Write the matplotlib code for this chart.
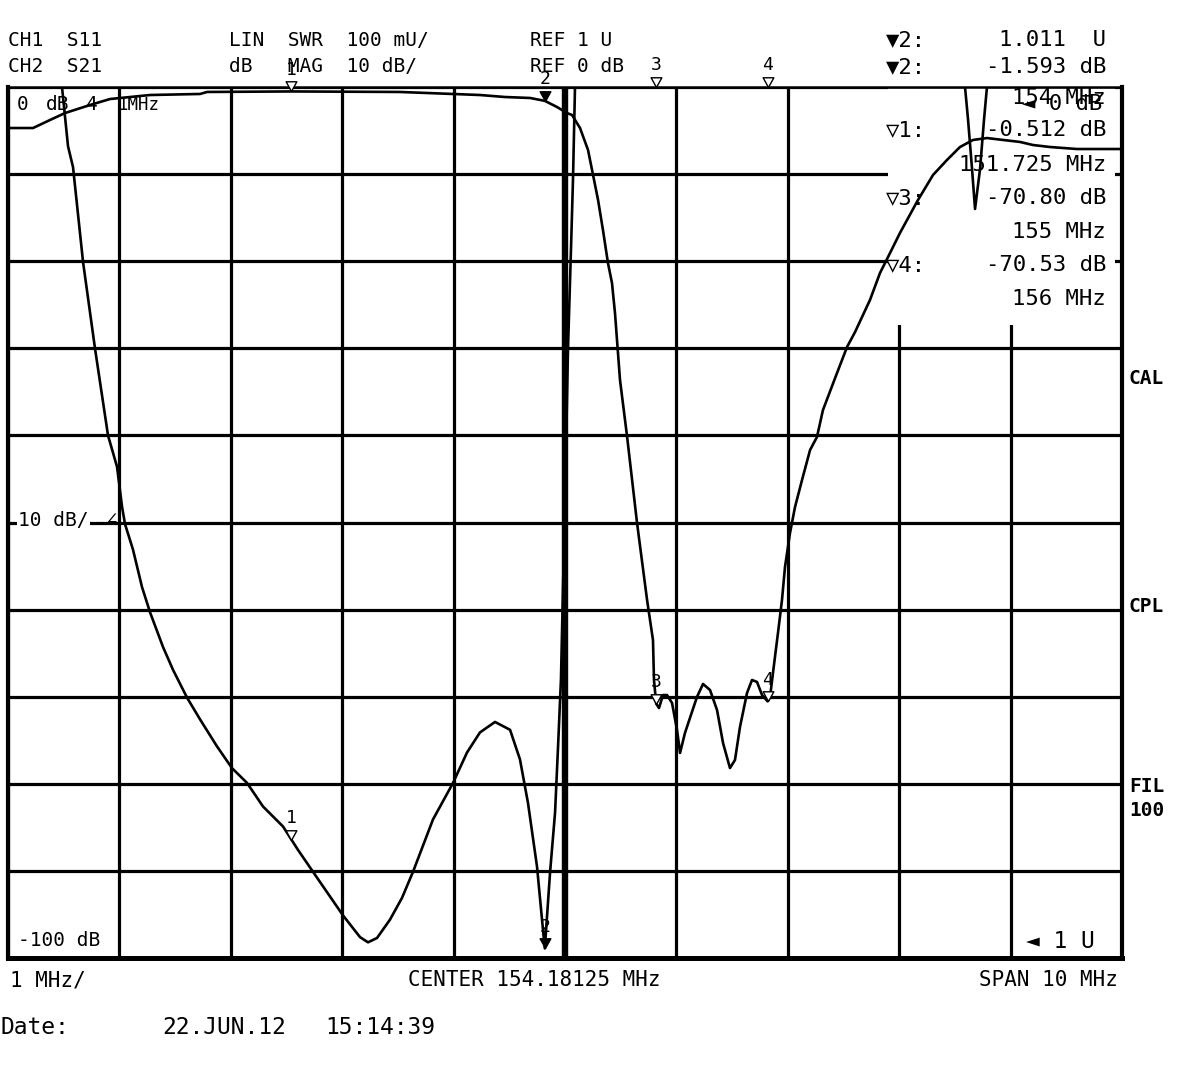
import numpy as np
import matplotlib
matplotlib.use("Agg")
import matplotlib.pyplot as plt
from matplotlib.path import Path
from matplotlib.patches import Rectangle

plt.rcParams['font.family'] = ['DejaVu Sans Mono', 'DejaVu Sans']

W, H = 1181, 1090

center = 154.18125
span = 10.0
f_start = center - span / 2
f_stop = center + span / 2

# CH1 S11, SWR (values at 2.0 are the trace pinned to the top of the screen)
s11_f = [149.181, 149.666, 149.720, 149.765, 149.855, 149.962, 150.079, 150.160,
         150.205, 150.232, 150.303, 150.384, 150.456, 150.573, 150.662, 150.788,
         150.905, 151.057, 151.192, 151.327, 151.470, 151.650, 151.785, 151.919,
         152.188, 152.341, 152.413, 152.494, 152.610, 152.718, 152.817, 152.996,
         153.176, 153.302, 153.418, 153.553, 153.688, 153.777, 153.849, 153.930,
         153.975, 154.000, 154.047, 154.092, 154.119, 154.145, 154.181, 154.208,
         154.235, 154.253, 154.271, 157.772, 157.799, 157.835, 157.862, 157.907,
         157.943, 157.969, 159.181]
s11_swr = [2.0, 2.0, 1.932, 1.908, 1.799, 1.700, 1.600, 1.564,
           1.518, 1.498, 1.469, 1.426, 1.397, 1.357, 1.331, 1.299,
           1.274, 1.243, 1.218, 1.201, 1.174, 1.151, 1.124, 1.099,
           1.049, 1.024, 1.018, 1.023, 1.044, 1.069, 1.099, 1.159,
           1.201, 1.236, 1.259, 1.271, 1.262, 1.228, 1.178, 1.105,
           1.044, 1.011, 1.098, 1.167, 1.243, 1.320, 1.526, 1.699,
           1.814, 1.894, 2.0, 2.0, 1.963, 1.906, 1.860, 1.906,
           1.963, 2.0, 2.0]

# CH2 S21, dB
s21_f = [149.181, 149.406, 149.558, 149.693, 149.917, 150.097, 150.456, 150.905,
         150.968, 151.725, 152.700, 153.418, 153.643, 153.867, 154.000, 154.110,
         154.199, 154.244, 154.316, 154.388, 154.433, 154.478, 154.522, 154.567,
         154.603, 154.630, 154.675, 154.738, 154.828, 154.918, 154.971, 154.980,
         155.000, 155.025, 155.061, 155.097, 155.142, 155.187, 155.214, 155.258,
         155.303, 155.366, 155.420, 155.483, 155.546, 155.600, 155.662, 155.707,
         155.752, 155.815, 155.860, 155.905, 155.950, 156.000, 156.022, 156.048,
         156.093, 156.129, 156.156, 156.201, 156.246, 156.309, 156.381, 156.443,
         156.497, 156.623, 156.713, 156.785, 156.919, 157.009, 157.099, 157.188,
         157.350, 157.485, 157.610, 157.727, 157.844, 157.969, 158.113, 158.266,
         158.382, 158.535, 158.777, 159.181]
s21_db = [-4.71, -4.71, -3.79, -2.99, -2.07, -1.38, -0.92, -0.80,
          -0.57, -0.51, -0.57, -0.92, -1.15, -1.26, -1.59, -2.30,
          -2.99, -3.21, -4.71, -7.23, -10.10, -12.97, -16.42, -20.21,
          -22.50, -25.95, -33.64, -40.07, -50.06, -58.90, -63.49, -68.08,
          -70.80, -71.30, -69.81, -69.81, -70.72, -73.82, -76.46, -74.17,
          -72.44, -70.03, -68.54, -69.23, -71.53, -75.32, -78.19, -77.27,
          -73.48, -69.58, -68.08, -68.31, -69.81, -70.53, -70.03, -67.28,
          -62.69, -58.90, -55.11, -51.21, -48.22, -45.12, -41.68, -40.18,
          -37.08, -32.84, -29.85, -28.13, -24.45, -21.35, -19.06, -16.76,
          -12.97, -10.10, -8.38, -6.89, -6.08, -5.86, -6.08, -6.31,
          -6.66, -6.89, -7.12, -7.12]

# markers
mk_names = ['1', '2', '3', '4']
mk_f = [151.725, 154.0, 155.0, 156.0]
mk_s21 = [-0.512, -1.593, -70.80, -70.53]
mk_s11 = [1.136, 1.011, 2.0, 2.0]
active = '2'

fig = plt.figure(figsize=(W / 100, H / 100), dpi=100)
ax = fig.add_axes([8 / W, 1 - 958 / H, (1122 - 8) / W, (958 - 87) / H])
ax.set_xlim(f_start, f_stop)
ax.set_ylim(-100, 0)
ax.set_xticks(np.linspace(f_start, f_stop, 11))
ax.set_yticks(np.arange(-100, 1, 10))
ax.tick_params(length=0, labelleft=False, labelbottom=False)
ax.set_axisbelow(True)
ax.grid(True, color='black', lw=2.3)
for side, lw in [('left', 3.0), ('bottom', 3.6), ('right', 3.0), ('top', 1.8)]:
    ax.spines[side].set_linewidth(lw)

# centre graticule line is drawn heavier
ax.axvline(center, color='black', lw=4.6, zorder=1.2)

# annotation area top right blanks the graticule
ax.add_patch(Rectangle(((888 - 8) / 1114, (958 - 325) / 871), (1115 - 888) / 1114,
                       (325 - 87) / 871, transform=ax.transAxes,
                       facecolor='white', edgecolor='none', zorder=1))

ax.plot(s21_f, s21_db, color='black', lw=1.9, zorder=2)

ax2 = ax.twinx()
ax2.set_ylim(1, 2)
ax2.set_yticks([])
ax2.tick_params(length=0, labelright=False)
for s in ax2.spines.values():
    s.set_visible(False)
ax2.plot(s11_f, s11_swr, color='black', lw=1.9, zorder=2)

tri = Path([(-0.55, 1.0), (0.55, 1.0), (0.0, 0.0), (-0.55, 1.0)],
           [Path.MOVETO, Path.LINETO, Path.LINETO, Path.CLOSEPOLY])
for a, vals in [(ax, mk_s21), (ax2, mk_s11)]:
    for name, f, v in zip(mk_names, mk_f, vals):
        a.plot(f, v, marker=tri, ms=14, mec='black', mew=1.0,
               mfc='black' if name == active else 'white',
               clip_on=False, zorder=5)
        a.annotate(name, (f, v), xytext=(0, 15.5), textcoords='offset points',
                   ha='center', va='center', fontsize=13, annotation_clip=False)


def put(x, y, s, size=14, ha='left', **kw):
    fig.text(x / W, 1 - y / H, s, ha=ha, va='center', fontsize=size, **kw)


put(8, 40, 'CH1  S11')
put(8, 67, 'CH2  S21')
put(229, 40, 'LIN  SWR  100 mU/')
put(229, 67, 'dB   MAG  10 dB/')
put(530, 40, 'REF 1 U')
put(530, 67, 'REF 0 dB')

put(886, 40, '▼2:', 16)
put(1106, 40, '1.011  U', 16, 'right')
put(886, 67, '▼2:', 16)
put(1106, 67, '-1.593 dB', 16, 'right')
put(1106, 98, '154 MHz', 16, 'right')
put(1102, 104, '◄ 0 dB', 16, 'right')
put(886, 130, '▽1:', 16)
put(1106, 130, '-0.512 dB', 16, 'right')
put(1106, 165, '151.725 MHz', 16, 'right')
put(886, 198, '▽3:', 16)
put(1106, 198, '-70.80 dB', 16, 'right')
put(1106, 232, '155 MHz', 16, 'right')
put(886, 265, '▽4:', 16)
put(1106, 265, '-70.53 dB', 16, 'right')
put(1106, 299, '156 MHz', 16, 'right')

put(17, 105, '0')
put(46, 105, 'dB')
put(86, 105, '4')
put(118, 105, '1MHz', 12.5)
put(18, 520, '10 dB/', bbox=dict(facecolor='white', edgecolor='none', pad=1))
put(106, 520, '∠')
put(18, 940, '-100 dB', bbox=dict(facecolor='white', edgecolor='none', pad=1))
put(1026, 942, '◄ 1 U', 16.5)

put(1129, 378, 'CAL', 14, weight='bold')
put(1129, 606, 'CPL', 14, weight='bold')
put(1129, 787, 'FIL', 14, weight='bold')
put(1129, 810, '100', 14, weight='bold')

put(10, 980, '1 MHz/', 15)
put(534, 980, 'CENTER 154.18125 MHz', 15, 'center')
put(1118, 980, 'SPAN 10 MHz', 15, 'right')
put(0, 1027, 'Date:', 16.5)
put(162, 1027, '22.JUN.12', 16.5)
put(325, 1027, '15:14:39', 16.5)

fig.savefig('out.png', dpi=100, facecolor='white')
